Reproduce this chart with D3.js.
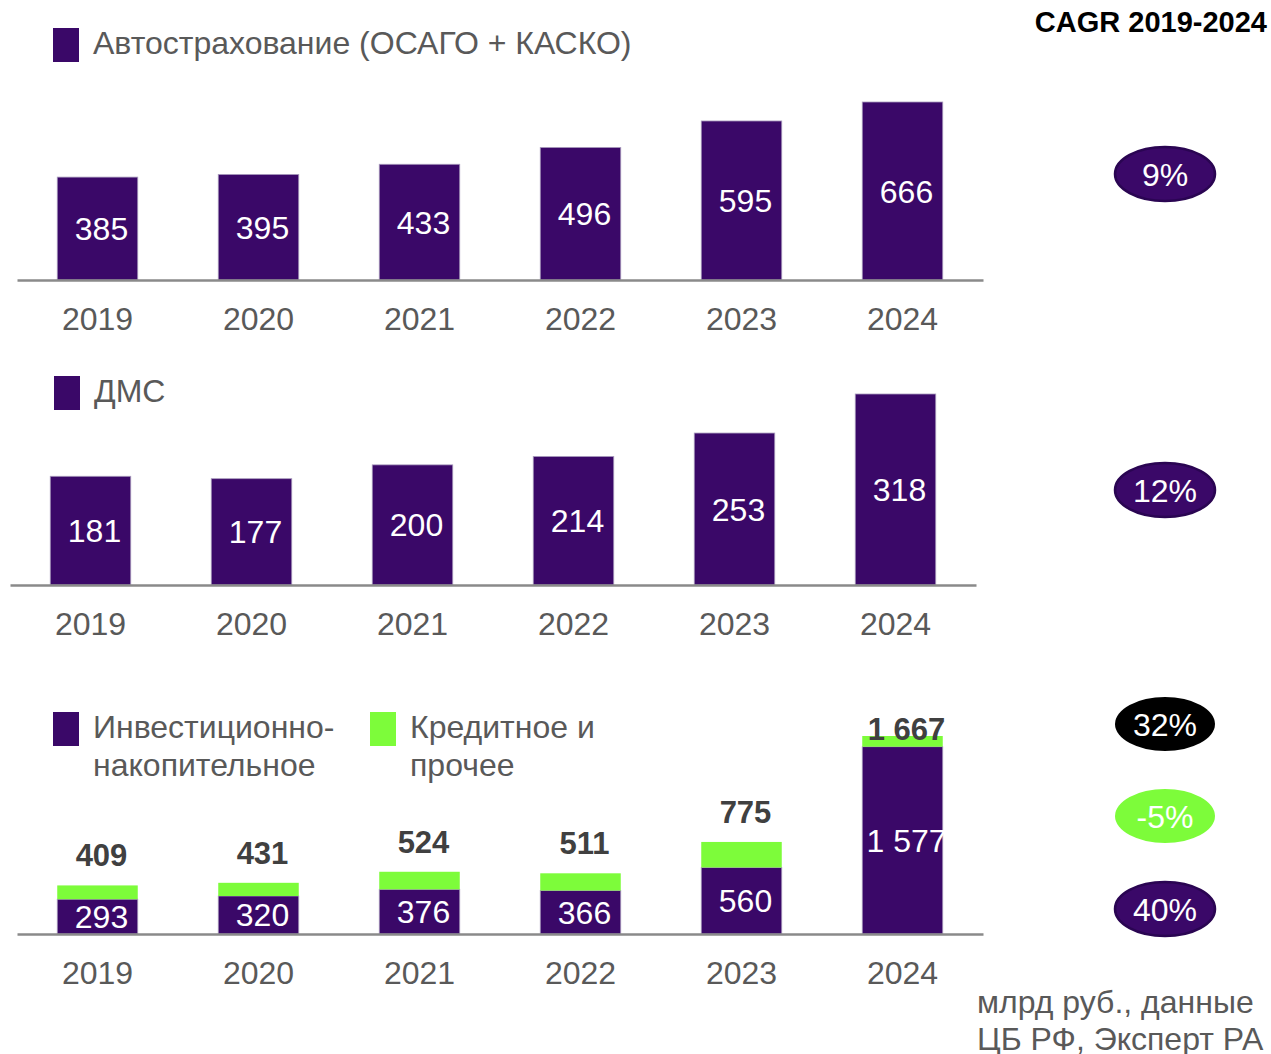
<!DOCTYPE html>
<html lang="ru">
<head>
<meta charset="UTF-8">
<title>Страховые премии 2019-2024</title>
<style>
  body { margin: 0; background: #fff; }
  svg { display: block; font-family: "Liberation Sans", Arial, sans-serif; }
  .yr text { fill: #595959; font-size: 32px; }
  .yr path { stroke: #8a8a8a; stroke-width: 2.5; }
</style>
</head>
<body>
<script src="https://d3js.org/d3.v7.min.js"></script>
<script>
const years = ['2019', '2020', '2021', '2022', '2023', '2024'];
const autoIns = [385, 395, 433, 496, 595, 666];
const dms = [181, 177, 200, 214, 253, 318];
const invest = [293, 320, 376, 366, 560, 1577];
const credit = [116, 111, 148, 145, 215, 90];
const lifeTotal = [409, 431, 524, 511, 775, 1667];
const cagr = ['9%', '12%', '32%', '-5%', '40%'];

const purple = '#3a0868';
const green = '#7dfc3a';
const grey = '#595959';
const fs = 32;

const width = 1271, height = 1054;
const svg = d3.select('body').append('svg')
  .attr('width', width)
  .attr('height', height);

// общая функция для оси и шкал одной панели
function panel(x0, x1, base, top, max) {
  const x = d3.scaleBand().domain(years).range([x0, x1]).paddingInner(0.5).paddingOuter(0.25);
  const y = d3.scaleLinear().domain([0, max]).range([base, top]);
  return { x, y, base };
}

function drawAxis(p) {
  svg.append('g').attr('class', 'yr')
    .attr('transform', `translate(0, ${p.base})`)
    .call(d3.axisBottom(p.x).tickSize(0).tickPadding(27))
    .call(g => g.selectAll('text').attr('font-family', null).attr('font-size', null));
}

function legend(x, y, color, lines) {
  svg.append('rect').attr('x', x).attr('y', y).attr('width', 26).attr('height', 34).attr('fill', color);
  const t = svg.append('text').attr('x', x + 40).attr('y', y + 26)
    .attr('fill', grey).attr('font-size', fs);
  lines.forEach((l, i) => t.append('tspan').attr('x', x + 40).attr('dy', i ? 38 : 0).text(l));
}

function simpleBars(p, values) {
  const g = svg.append('g');
  g.selectAll('rect').data(values).join('rect')
    .attr('x', (d, i) => p.x(years[i]))
    .attr('width', p.x.bandwidth())
    .attr('y', d => p.y(d))
    .attr('height', d => p.y(0) - p.y(d))
    .attr('fill', purple)
    .attr('stroke', '#a99bbd').attr('stroke-width', 0.8);
  g.selectAll('text').data(values).join('text')
    .attr('x', (d, i) => p.x(years[i]) + p.x.bandwidth() / 2 + 4)
    .attr('y', d => (p.y(d) + p.y(0)) / 2 + 11.5)
    .attr('text-anchor', 'middle')
    .attr('fill', '#fff').attr('font-size', fs)
    .text(d => d);
  drawAxis(p);
}

// Автострахование
legend(53, 28, purple, ['Автострахование (ОСАГО + КАСКО)']);
const p1 = panel(17, 983, 280, 102, 666);
simpleBars(p1, autoIns);

// ДМС
legend(54, 376, purple, ['ДМС']);
const p2 = panel(10, 976, 585, 394, 318);
simpleBars(p2, dms);

// Страхование жизни
legend(53, 712, purple, ['Инвестиционно-', 'накопительное']);
legend(370, 712, green, ['Кредитное и', 'прочее']);
const p3 = panel(17, 983, 934, 736, 1667);
const rows = years.map((yr, i) => ({ yr, invest: invest[i], credit: credit[i] }));
const stacked = d3.stack().keys(['invest', 'credit'])(rows);
const colors = { invest: purple, credit: green };

const g3 = svg.append('g');
stacked.forEach(layer => {
  g3.append('g').selectAll('rect').data(layer).join('rect')
    .attr('x', d => p3.x(d.data.yr))
    .attr('width', p3.x.bandwidth())
    .attr('y', d => p3.y(d[1]))
    .attr('height', d => p3.y(d[0]) - p3.y(d[1]))
    .attr('fill', colors[layer.key])
    .attr('stroke', layer.key === 'invest' ? '#a99bbd' : 'none').attr('stroke-width', 0.8);
});
const fmt = d => d3.format(',')(d).replace(',', ' ');
g3.selectAll('text.in').data(invest).join('text').attr('class', 'in')
  .attr('x', (d, i) => p3.x(years[i]) + p3.x.bandwidth() / 2 + 4)
  .attr('y', d => (p3.y(d) + p3.y(0)) / 2 + 11.5)
  .attr('text-anchor', 'middle')
  .attr('fill', '#fff').attr('font-size', fs)
  .text(fmt);
g3.selectAll('text.tot').data(lifeTotal).join('text').attr('class', 'tot')
  .attr('x', (d, i) => p3.x(years[i]) + p3.x.bandwidth() / 2 + 4)
  .attr('y', d => Math.max(p3.y(d) - 19, 740))
  .attr('text-anchor', 'middle')
  .attr('fill', '#404040').attr('font-size', 31).attr('font-weight', 'bold')
  .text(fmt);
drawAxis(p3);

// CAGR
svg.append('text').attr('x', 1267).attr('y', 32).attr('text-anchor', 'end')
  .attr('font-size', 29).attr('font-weight', 'bold').attr('fill', '#000')
  .text('CAGR 2019-2024');

const badges = [
  { label: cagr[0], cy: 174, fill: purple, stroke: '#2a0552' },
  { label: cagr[1], cy: 490, fill: purple, stroke: '#2a0552' },
  { label: cagr[2], cy: 724, fill: '#000', stroke: 'none' },
  { label: cagr[3], cy: 816, fill: green, stroke: 'none' },
  { label: cagr[4], cy: 909, fill: purple, stroke: '#2a0552' }
];
const gb = svg.append('g');
gb.selectAll('ellipse').data(badges).join('ellipse')
  .attr('cx', 1165).attr('cy', d => d.cy).attr('rx', 50).attr('ry', 27)
  .attr('fill', d => d.fill).attr('stroke', d => d.stroke).attr('stroke-width', 2.5);
gb.selectAll('text').data(badges).join('text')
  .attr('x', 1165).attr('y', d => d.cy + 11.5)
  .attr('text-anchor', 'middle').attr('fill', '#fff').attr('font-size', fs)
  .text(d => d.label);

// источник
const src = svg.append('text').attr('x', 977).attr('y', 1013).attr('fill', grey).attr('font-size', fs);
src.append('tspan').attr('x', 977).text('млрд руб., данные');
src.append('tspan').attr('x', 977).attr('dy', 37).text('ЦБ РФ, Эксперт РА');
</script>
</body>
</html>
